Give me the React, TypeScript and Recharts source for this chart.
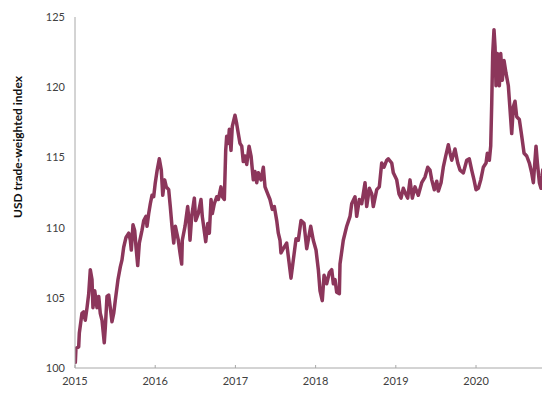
import React from 'react';
import { LineChart, Line, XAxis, YAxis } from 'recharts';

// Decimal-year dates
const dates: number[] = [
  2015.004, 2015.012, 2015.046, 2015.054, 2015.087, 2015.108, 2015.128, 2015.15, 2015.171, 2015.191,
  2015.212, 2015.224, 2015.246, 2015.274, 2015.296, 2015.315, 2015.337, 2015.365, 2015.378, 2015.399,
  2015.42, 2015.44, 2015.461, 2015.483, 2015.502, 2015.536, 2015.565, 2015.586, 2015.607, 2015.636,
  2015.67, 2015.69, 2015.702, 2015.723, 2015.744, 2015.761, 2015.782, 2015.802, 2015.835, 2015.857,
  2015.885, 2015.898, 2015.919, 2015.939, 2015.96, 2015.981, 2016.001, 2016.022, 2016.051, 2016.076,
  2016.094, 2016.118, 2016.138, 2016.168, 2016.188, 2016.209, 2016.231, 2016.251, 2016.288, 2016.309,
  2016.33, 2016.338, 2016.372, 2016.405, 2016.421, 2016.434, 2016.455, 2016.488, 2016.505, 2016.537,
  2016.571, 2016.587, 2016.63, 2016.655, 2016.675, 2016.696, 2016.712, 2016.737, 2016.767, 2016.787,
  2016.82, 2016.837, 2016.862, 2016.879, 2016.891, 2016.911, 2016.924, 2016.945, 2016.961, 2016.995,
  2017.016, 2017.036, 2017.057, 2017.079, 2017.098, 2017.12, 2017.141, 2017.17, 2017.195, 2017.223,
  2017.244, 2017.266, 2017.286, 2017.319, 2017.348, 2017.369, 2017.403, 2017.431, 2017.46, 2017.485,
  2017.515, 2017.535, 2017.556, 2017.568, 2017.597, 2017.639, 2017.693, 2017.722, 2017.756, 2017.784,
  2017.818, 2017.855, 2017.889, 2017.939, 2017.971, 2018.005, 2018.034, 2018.055, 2018.083, 2018.105,
  2018.138, 2018.171, 2018.201, 2018.221, 2018.242, 2018.263, 2018.296, 2018.304, 2018.345, 2018.388,
  2018.429, 2018.45, 2018.491, 2018.512, 2018.545, 2018.575, 2018.616, 2018.637, 2018.67, 2018.7,
  2018.719, 2018.762, 2018.794, 2018.824, 2018.853, 2018.887, 2018.906, 2018.949, 2018.969, 2019.011,
  2019.04, 2019.065, 2019.093, 2019.123, 2019.148, 2019.177, 2019.206, 2019.239, 2019.28, 2019.323,
  2019.364, 2019.398, 2019.426, 2019.448, 2019.48, 2019.51, 2019.53, 2019.564, 2019.592, 2019.622,
  2019.655, 2019.676, 2019.697, 2019.738, 2019.772, 2019.8, 2019.842, 2019.884, 2019.916, 2019.946,
  2019.975, 2020.0, 2020.029, 2020.059, 2020.091, 2020.125, 2020.141, 2020.166, 2020.183, 2020.196,
  2020.208, 2020.224, 2020.237, 2020.249, 2020.266, 2020.291, 2020.308, 2020.328, 2020.349, 2020.374,
  2020.403, 2020.424, 2020.445, 2020.465, 2020.486, 2020.507, 2020.54, 2020.57, 2020.599, 2020.632,
  2020.665, 2020.694, 2020.715, 2020.748, 2020.765, 2020.79, 2020.81, 2020.832,
];

// USD trade-weighted index values
const usdIndex: number[] = [
  100.4, 101.4, 101.5, 102.5, 103.9, 104.0, 103.4, 104.3, 105.3, 107.0,
  106.3, 104.3, 105.5, 104.3, 105.1, 103.9, 103.4, 101.8, 102.9, 105.1,
  105.2, 104.3, 103.3, 103.9, 104.8, 106.3, 107.2, 107.7, 108.6, 109.3,
  109.6, 109.1, 108.4, 110.2, 109.8, 108.6, 107.3, 108.9, 109.8, 110.5,
  110.8, 110.1, 111.0, 111.7, 112.3, 112.2, 113.2, 114.0, 114.9, 114.1,
  112.3, 113.4, 112.9, 112.7, 111.5, 110.1, 108.9, 110.1, 109.1, 108.2,
  107.4, 109.1, 110.1, 111.5, 110.5, 109.1, 110.8, 112.1, 110.5, 111.0,
  112.0, 110.8, 109.0, 110.3, 109.6, 112.0, 111.0, 111.7, 112.2, 112.0,
  112.9, 112.2, 112.0, 115.5, 116.5, 116.0, 117.0, 115.5, 117.2, 118.0,
  117.4, 116.7, 116.0, 115.8, 114.7, 115.1, 114.5, 115.8, 115.1, 113.4,
  114.0, 113.2, 113.9, 113.4, 114.3, 112.9, 112.4, 112.0, 111.3, 111.5,
  110.5, 109.6, 109.1, 108.2, 108.5, 108.9, 106.4, 107.7, 109.2, 109.1,
  110.5, 110.3, 108.5, 110.1, 109.1, 108.4, 107.0, 105.5, 104.8, 106.6,
  106.0, 106.8, 107.0, 106.0, 106.3, 105.4, 105.3, 107.4, 109.1, 110.1,
  110.8, 111.7, 112.2, 110.8, 112.0, 111.7, 113.2, 111.5, 112.8, 112.4,
  111.5, 112.7, 112.9, 114.6, 114.3, 114.8, 114.9, 114.6, 113.9, 113.4,
  112.4, 112.1, 112.8, 112.4, 112.1, 113.4, 112.1, 112.9, 112.3, 113.2,
  113.6, 114.3, 114.1, 113.4, 112.7, 113.3, 112.6, 113.2, 114.3, 115.1,
  115.9, 115.3, 114.8, 115.6, 114.6, 114.1, 113.9, 114.8, 114.9, 114.1,
  113.4, 112.7, 112.8, 113.4, 114.3, 114.6, 115.3, 114.8, 115.8, 118.9,
  122.4, 124.1, 122.9, 120.1, 122.4, 120.1, 122.4, 120.5, 121.9, 121.0,
  120.1, 118.4, 116.7, 118.6, 119.0, 117.9, 117.7, 116.5, 115.3, 115.1,
  114.6, 113.9, 113.2, 115.8, 114.6, 113.2, 112.8, 114.1,
];

const yearTicks: number[] = [2015, 2016, 2017, 2018, 2019, 2020];
const valueTicks: number[] = [100, 105, 110, 115, 120, 125];

const data = dates.map((t, i) => ({ t, v: usdIndex[i] }));

const FONT = 'Lato, "Open Sans", sans-serif';
const AXIS_COLOR = '#a8a8a8';
const TEXT_COLOR = '#404040';
const LINE_COLOR = '#8c365b';

const XTick = (props: any) => {
  const { x, y, payload } = props;
  return (
    <g>
      <line x1={x} x2={x} y1={y - 9} y2={y - 12} stroke={AXIS_COLOR} strokeWidth={1} />
      <text x={x} y={y} dy="0.71em" textAnchor="middle" fill={TEXT_COLOR} fontSize={11} fontFamily={FONT}>
        {payload.value}
      </text>
    </g>
  );
};

const YLabel = () => (
  <text
    x={9}
    y={139}
    transform="rotate(-90 9 139)"
    textAnchor="middle"
    dominantBaseline="central"
    fill="#111"
    fontSize={12}
    fontWeight="bold"
    fontFamily={FONT}
  >
    USD trade-weighted index
  </text>
);

export default function App() {
  return (
    <LineChart width={542} height={385} data={data} margin={{ top: 9, right: 7, bottom: 5, left: 0 }}>
      <XAxis
        dataKey="t"
        type="number"
        domain={[2015, 2020.835]}
        ticks={yearTicks}
        allowDataOverflow
        height={20}
        tickSize={0}
        tickMargin={9}
        axisLine={{ stroke: AXIS_COLOR, strokeWidth: 1 }}
        tickLine={false}
        tick={<XTick />}
        interval={0}
      />
      <YAxis
        type="number"
        domain={[100, 125]}
        ticks={valueTicks}
        width={67}
        tickSize={0}
        tickMargin={10}
        axisLine={{ stroke: AXIS_COLOR, strokeWidth: 1 }}
        tickLine={false}
        tick={{ fill: TEXT_COLOR, fontSize: 11, fontFamily: FONT }}
        interval={0}
        label={{ content: () => <YLabel /> }}
      />
      <Line
        type="linear"
        dataKey="v"
        stroke={LINE_COLOR}
        strokeWidth={3.5}
        dot={false}
        strokeLinejoin="round"
        strokeLinecap="round"
        isAnimationActive={false}
      />
    </LineChart>
  );
}
